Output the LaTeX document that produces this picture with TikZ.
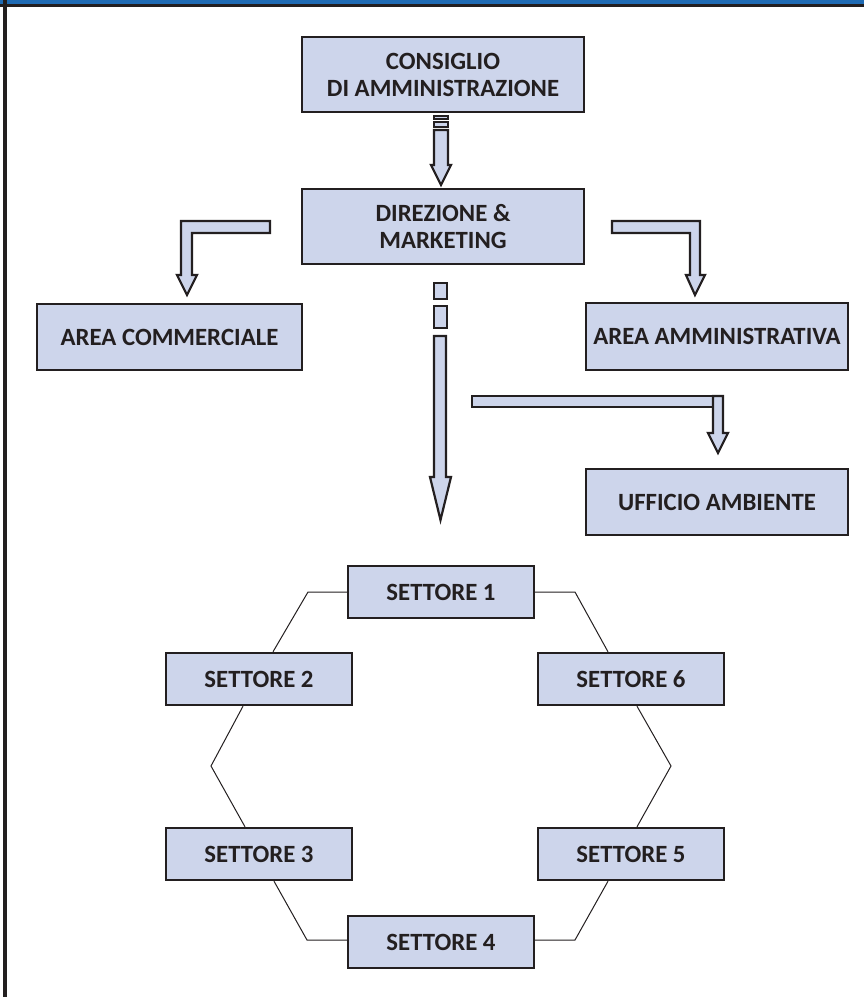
\documentclass[tikz,border=0pt]{standalone}
\usepackage{fontspec}
\setmainfont{Carlito}
\usepackage{tikz}

\definecolor{boxfill}{RGB}{205,213,235}
\definecolor{inkdark}{RGB}{35,31,32}
\definecolor{bandblue}{RGB}{31,107,180}

\tikzset{
  box/.style={draw=inkdark, line width=1.2pt, fill=boxfill, text=inkdark,
    font=\fontsize{12.4}{13.5}\selectfont\bfseries, inner sep=0pt, align=center},
  settore/.style={box, minimum width=93pt, minimum height=26pt},
  blockarrow/.style={draw=inkdark, line width=1.1pt, fill=boxfill, line join=miter},
  link/.style={draw=inkdark, line width=0.5pt}
}

\begin{document}
\begin{tikzpicture}[x=0.5pt,y=-0.5pt]
	\useasboundingbox (0,0) rectangle (864,997);

	% cornice
	\fill[bandblue] (0,0) rectangle (864,4);
	\fill[inkdark] (0,4) rectangle (864,7);
	\fill[inkdark] (3,0) rectangle (7,997);

	\node[box, minimum width=141pt, minimum height=37.5pt] (cda) at (443, 74.5)  {CONSIGLIO\\DI AMMINISTRAZIONE};
	\node[box, minimum width=141pt, minimum height=37.5pt] (dir) at (443, 226.5) {DIREZIONE \&\\MARKETING};

	\node[box, minimum width=132.5pt, minimum height=33pt] (comm) at (169.5, 337) {AREA COMMERCIALE};
	\node[box, minimum width=131pt, minimum height=33.5pt] (amm) at (717, 336.5) {AREA AMMINISTRATIVA};
	\node[box, minimum width=131pt, minimum height=33pt] (uff) at (717, 502)   {UFFICIO AMBIENTE};

	\node[settore] (s1) at (441, 592) {SETTORE 1};
	\node[settore] (s2) at (259, 679) {SETTORE 2};
	\node[settore] (s6) at (631, 679) {SETTORE 6};
	\node[settore] (s3) at (259, 854) {SETTORE 3};
	\node[settore] (s5) at (631, 854) {SETTORE 5};
	\node[settore] (s4) at (441, 942) {SETTORE 4};

	% frecce
	\draw[blockarrow] (434,116) rectangle (448,119);
	\draw[blockarrow] (434,122) rectangle (448,127);
	\draw[blockarrow] (434,130) -- (448,130) -- (448,165) -- (451,165) -- (441,185)
		-- (431,165) -- (434,165) -- cycle;

	\draw[blockarrow] (270,221) -- (181,221) -- (181,275) -- (177,275) -- (187,295)
		-- (197,275) -- (192,275) -- (192,233) -- (270,233) -- cycle;
	\draw[blockarrow] (612,221) -- (700,221) -- (700,275) -- (705,275) -- (695,295)
		-- (686,275) -- (690,275) -- (690,233) -- (612,233) -- cycle;

	\draw[blockarrow] (434,283) rectangle (447,299);
	\draw[blockarrow] (434,306) rectangle (447,328);
	\draw[blockarrow] (434,336) -- (446,336) -- (446,477) -- (451,477) -- (440.5,520)
		-- (430,477) -- (434,477) -- cycle;

	\draw[blockarrow] (472,396) rectangle (723,407);
	\draw[blockarrow] (713,396) -- (723,396) -- (723,433) -- (728,433) -- (718,453)
		-- (708,433) -- (713,433) -- cycle;

	% anello dei settori
	\coordinate (k12) at (308,592);
	\coordinate (k16) at (575,592);
	\coordinate (k23) at (211,766);
	\coordinate (k65) at (671,766);
	\coordinate (k34) at (307,940);
	\coordinate (k54) at (575,940);

	\draw[link] (s1.west) -- (k12) -- (s2.north -| 273,0);
	\draw[link] (s1.east) -- (k16) -- (s6.north -| 608,0);
	\draw[link] (s2.south -| 243,0) -- (k23) -- (s3.north -| 245,0);
	\draw[link] (s6.south -| 637,0) -- (k65) -- (s5.north -| 637,0);
	\draw[link] (s3.south -| 274,0) -- (k34) -- (s4.west |- k34);
	\draw[link] (s5.south -| 608,0) -- (k54) -- (s4.east |- k54);
\end{tikzpicture}
\end{document}
